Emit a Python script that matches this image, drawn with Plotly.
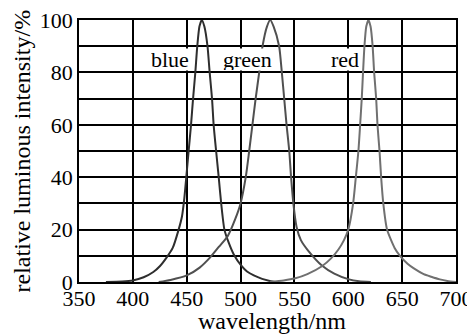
import plotly.graph_objects as go

# ---- data ----
blue_x = [375, 390, 400, 410, 419, 425, 431.6, 437, 442.5, 445.6, 447.8, 449.6, 451.8, 454, 455.9, 458, 459.8,
          461.8, 464, 466.4, 469.3, 471.3, 473.5, 475, 477.3, 479.7, 482, 485, 489, 493.7, 500.5, 506, 512.3, 520, 528, 532]
blue_y = [0, 0.2, 0.6, 1.8, 3.8, 6, 9.5, 13, 20, 25, 32, 40, 50, 60, 70, 80, 90,
          97.5, 100, 97.5, 90, 80, 70, 60, 50, 40, 30, 20, 15, 10.5, 6.3, 4, 2.5, 1.2, 0.3, 0]

green_x = [424, 435, 450, 462, 472, 480, 488, 495, 500, 504.8, 508, 511, 514, 517.3, 520.4,
           524.5, 527.5, 530.7, 535.8, 538.3, 540.5, 542.7, 545.2, 546.9, 549, 552, 556, 562.7, 575.5, 587, 600.7, 610, 621]
green_y = [0, 0.8, 2.5, 5.5, 9.5, 13.5, 17.5, 24, 30, 40, 50, 60, 70, 80, 90,
           97.5, 100, 97.5, 90, 80, 70, 60, 50, 40, 30, 21, 16, 12, 6.3, 3.2, 1, 0.3, 0]

red_x = [527, 540, 550, 562, 575.5, 584, 591, 596, 600, 604.5, 607, 609.4, 611, 612.5, 613.7, 615,
         616.7, 618.7, 620.7, 622.6, 624, 625.9, 627.1, 629, 630.5, 632.5, 636, 643, 648, 655, 661.6, 670, 677, 685, 692, 700]
red_y = [0, 0.6, 1.3, 3, 6, 9, 12.5, 16, 20, 30, 40, 50, 60, 70, 80, 90,
         97.5, 100, 97.5, 90, 80, 70, 60, 50, 40, 30, 20, 13, 10, 7, 5, 3, 2, 1, 0.4, 0]

x_ticks = [350, 400, 450, 500, 550, 600, 650, 700]
y_ticks = [0, 10, 20, 30, 40, 50, 60, 70, 80, 90, 100]
y_tick_text = ["0", "", "20", "", "40", "", "60", "", "80", "", "100"]

labels = ["blue", "green", "red"]
label_x = [434.5, 506, 596.5]
label_y = [85, 85, 85]

x_title = "wavelength/nm"
y_title = "relative luminous intensity/%"

FONT = "Liberation Serif, Times New Roman, serif"

fig = go.Figure()
for xs, ys, col, name in [(blue_x, blue_y, "#2e2e2e", "blue"),
                          (green_x, green_y, "#505050", "green"),
                          (red_x, red_y, "#707070", "red")]:
    fig.add_trace(go.Scatter(x=xs, y=ys, mode="lines", name=name,
                             line=dict(color=col, width=2, shape="spline", smoothing=0.6),
                             hoverinfo="x+y"))

for t, lx, ly in zip(labels, label_x, label_y):
    fig.add_annotation(x=lx, y=ly, text=t, showarrow=False, bgcolor="white",
                       font=dict(family=FONT, size=22, color="black"), borderpad=0, height=21)

# axis titles placed as paper-anchored annotations for precise positioning
fig.add_annotation(xref="paper", yref="paper", x=0.5, y=0, xshift=4.5, yshift=-39,
                   xanchor="center", yanchor="middle", showarrow=False, text=x_title,
                   font=dict(family=FONT, size=24, color="black"))
fig.add_annotation(xref="paper", yref="paper", x=0, y=0.5, xshift=-57.5, yshift=0,
                   xanchor="center", yanchor="middle", showarrow=False, text=y_title, textangle=-90,
                   font=dict(family=FONT, size=24, color="black"))

# page body has an 8px margin, so the figure is sized and placed to compensate
fig.update_layout(
    width=467, height=328,
    margin=dict(l=71, r=19, t=12, b=54),
    paper_bgcolor="white", plot_bgcolor="white",
    showlegend=False,
    font=dict(family=FONT, size=22, color="black"),
    xaxis=dict(range=[350, 700], tickvals=x_ticks, showgrid=True, gridcolor="black", gridwidth=1.5,
               showline=True, linecolor="black", linewidth=1.5, mirror=True, zeroline=False,
               ticks="", ticklabelstandoff=-4, automargin=False, ticklabeloverflow="allow"),
    yaxis=dict(range=[0, 100], tickvals=y_ticks, ticktext=y_tick_text, showgrid=True, gridcolor="black",
               gridwidth=1.5, showline=True, linecolor="black", linewidth=1.5, mirror=True, zeroline=False,
               ticks="", ticklabelstandoff=0, automargin=False, ticklabeloverflow="allow"),
)

fig.write_html("out.html")
